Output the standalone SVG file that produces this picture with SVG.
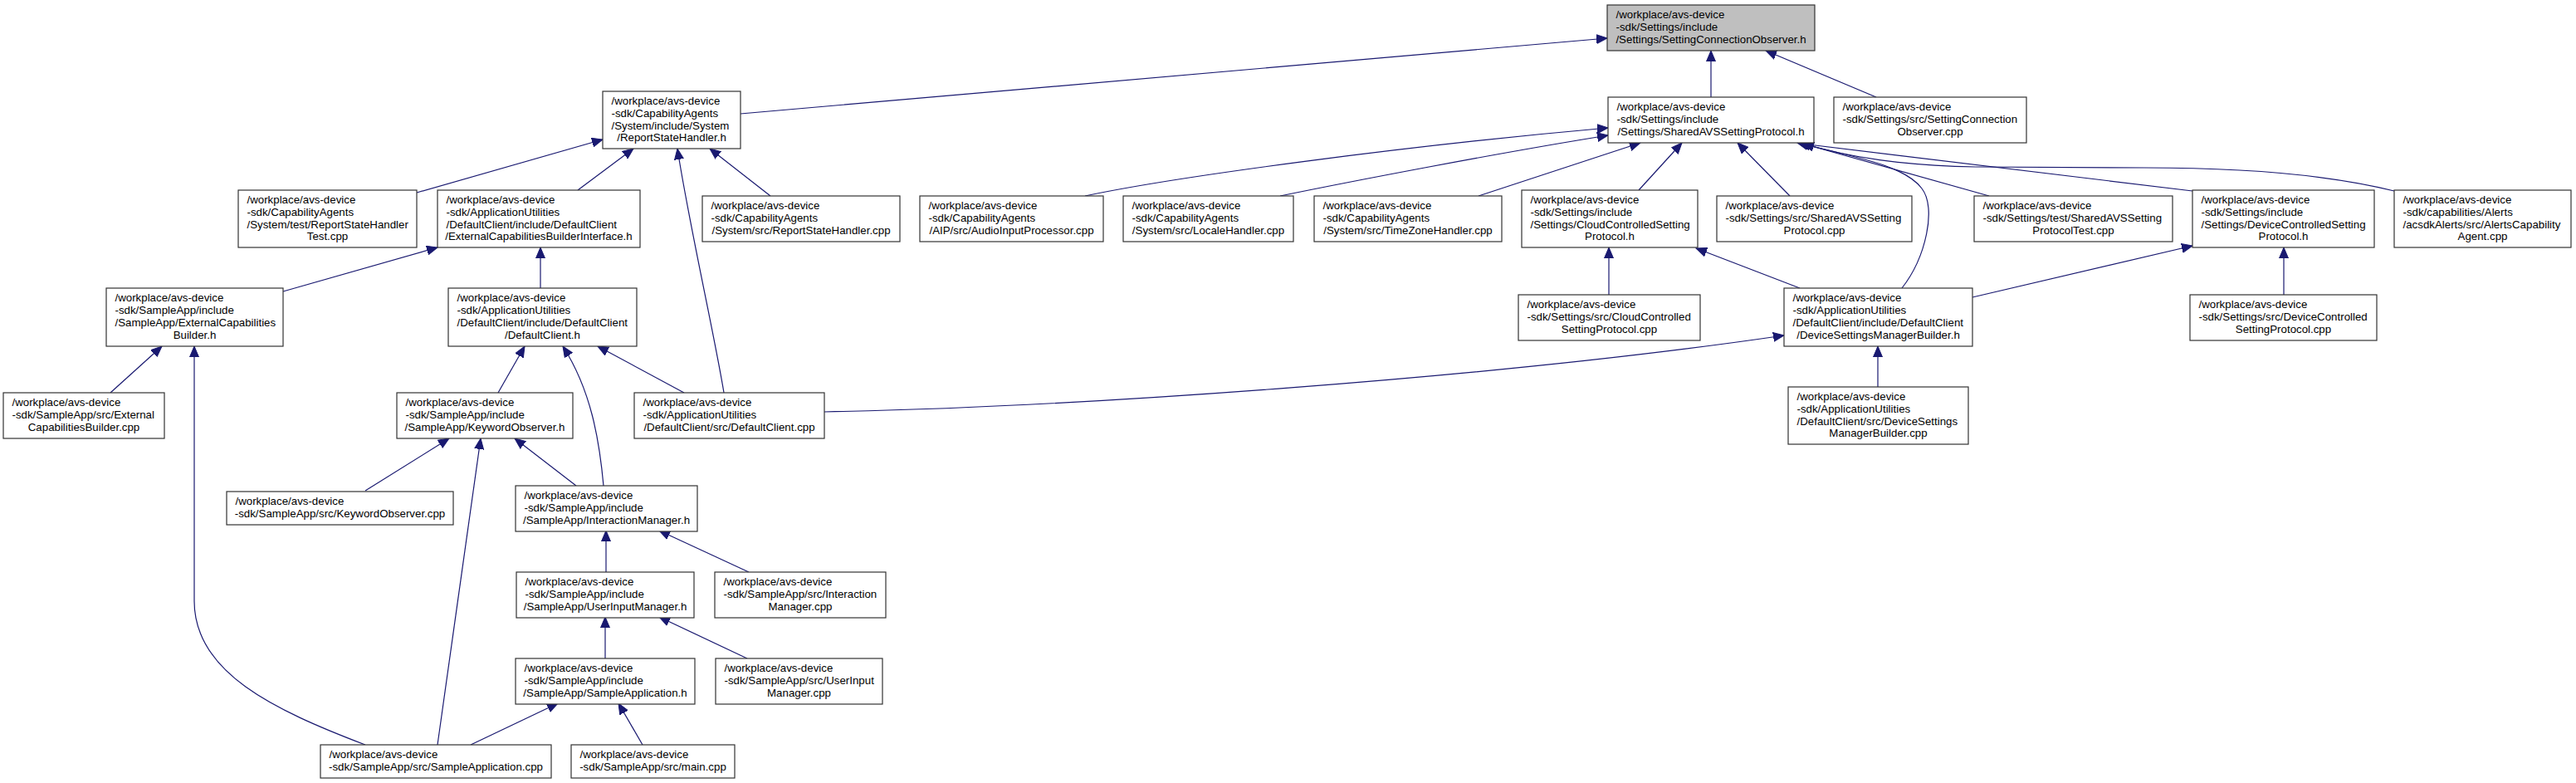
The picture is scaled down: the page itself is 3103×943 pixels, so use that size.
<svg xmlns="http://www.w3.org/2000/svg" width="3103" height="943" viewBox="0 0 3103 943">
<style>
.n rect{fill:#ffffff;stroke:#333333;stroke-width:1.2}
.n.g rect{fill:#bfbfbf}
.n text{font-family:"Liberation Sans",Arial,Helvetica,sans-serif;font-size:13.3px;fill:#000000}
.n text.c{text-anchor:middle}
.e path{fill:none;stroke:#191970;stroke-width:1.2;marker-end:url(#ah)}
</style>
<defs>
<marker id="ah" markerUnits="userSpaceOnUse" markerWidth="14" markerHeight="12" refX="13" refY="6" orient="auto" viewBox="0 0 14 12"><path d="M0,0.5 L13,6 L0,11.5 z" fill="#191970" stroke="#191970" stroke-width="1"/></marker>
</defs>
<rect x="0" y="0" width="3103" height="943" fill="#ffffff"/>
<g id="edges" class="e">
<path d="M892,137 L1936,46"/>
<path d="M2061,117 L2061,61"/>
<path d="M2260,117 L2127,61"/>
<path d="M502,232 L726,168"/>
<path d="M696,229 L763,179"/>
<path d="M928,236 L855,179"/>
<path d="M872,473 C860,400 830,270 816,179"/>
<path d="M1307,236 C1420,212 1700,175 1937,154"/>
<path d="M1542,236 C1620,220 1800,185 1937,163"/>
<path d="M1781,236 L1976,172"/>
<path d="M1974,229 L2026,172"/>
<path d="M2156,236 L2093,172"/>
<path d="M2396,236 L2168,172"/>
<path d="M2641,230 L2170,173"/>
<path d="M2884,230 C2820,214 2720,202 2583,202 L2380,201 C2290,199 2230,190 2172,173"/>
<path d="M2291,347 C2320,310 2333,250 2315,227 C2295,200 2240,190 2165,172"/>
<path d="M1938,355 L1938,298"/>
<path d="M2168,347 L2043,299"/>
<path d="M2751,355 L2751,298"/>
<path d="M2376,358 L2641,296"/>
<path d="M2262,466 L2262,417"/>
<path d="M993,496 C1300,490 1800,455 2149,404"/>
<path d="M341,351 L527,298"/>
<path d="M651,347 L651,298"/>
<path d="M133,473 L195,417"/>
<path d="M440,897 C330,855 234,810 234,724 L234,417"/>
<path d="M600,473 L632,417"/>
<path d="M727,585 C722,530 712,470 678,417"/>
<path d="M824,473 L720,417"/>
<path d="M440,591 L541,528"/>
<path d="M527,897 L579,528"/>
<path d="M694,585 L620,528"/>
<path d="M730,689 L730,639"/>
<path d="M902,689 L794,639"/>
<path d="M729,793 L729,743"/>
<path d="M900,793 L794,743"/>
<path d="M567,897 L672,847"/>
<path d="M774,897 L745,847"/>
</g>
<g id="n0" class="n g"><rect x="1936" y="6" width="250" height="55"/><text x="1946.5" y="22.3">/workplace/avs-device</text><text x="1946.5" y="37.1">-sdk/Settings/include</text><text class="c" x="2061" y="51.9">/Settings/SettingConnectionObserver.h</text></g>
<g id="n1" class="n"><rect x="726" y="110" width="166" height="69"/><text x="736.5" y="125.9">/workplace/avs-device</text><text x="736.5" y="140.7">-sdk/CapabilityAgents</text><text x="736.5" y="155.5">/System/include/System</text><text class="c" x="809" y="170.3">/ReportStateHandler.h</text></g>
<g id="n2" class="n"><rect x="1937" y="117" width="248" height="55"/><text x="1947.5" y="133.3">/workplace/avs-device</text><text x="1947.5" y="148.1">-sdk/Settings/include</text><text class="c" x="2061" y="162.9">/Settings/SharedAVSSettingProtocol.h</text></g>
<g id="n3" class="n"><rect x="2209" y="117" width="232" height="55"/><text x="2219.5" y="133.3">/workplace/avs-device</text><text x="2219.5" y="148.1">-sdk/Settings/src/SettingConnection</text><text class="c" x="2325" y="162.9">Observer.cpp</text></g>
<g id="n4" class="n"><rect x="287" y="229" width="215" height="69"/><text x="297.5" y="244.9">/workplace/avs-device</text><text x="297.5" y="259.7">-sdk/CapabilityAgents</text><text x="297.5" y="274.5">/System/test/ReportStateHandler</text><text class="c" x="394.5" y="289.3">Test.cpp</text></g>
<g id="n5" class="n"><rect x="527" y="229" width="244" height="69"/><text x="537.5" y="244.9">/workplace/avs-device</text><text x="537.5" y="259.7">-sdk/ApplicationUtilities</text><text x="537.5" y="274.5">/DefaultClient/include/DefaultClient</text><text class="c" x="649" y="289.3">/ExternalCapabilitiesBuilderInterface.h</text></g>
<g id="n6" class="n"><rect x="846" y="236" width="238" height="55"/><text x="856.5" y="252.3">/workplace/avs-device</text><text x="856.5" y="267.1">-sdk/CapabilityAgents</text><text class="c" x="965" y="281.9">/System/src/ReportStateHandler.cpp</text></g>
<g id="n7" class="n"><rect x="1108" y="236" width="221" height="55"/><text x="1118.5" y="252.3">/workplace/avs-device</text><text x="1118.5" y="267.1">-sdk/CapabilityAgents</text><text class="c" x="1218.5" y="281.9">/AIP/src/AudioInputProcessor.cpp</text></g>
<g id="n8" class="n"><rect x="1353" y="236" width="205" height="55"/><text x="1363.5" y="252.3">/workplace/avs-device</text><text x="1363.5" y="267.1">-sdk/CapabilityAgents</text><text class="c" x="1455.5" y="281.9">/System/src/LocaleHandler.cpp</text></g>
<g id="n9" class="n"><rect x="1583" y="236" width="226" height="55"/><text x="1593.5" y="252.3">/workplace/avs-device</text><text x="1593.5" y="267.1">-sdk/CapabilityAgents</text><text class="c" x="1696" y="281.9">/System/src/TimeZoneHandler.cpp</text></g>
<g id="n10" class="n"><rect x="1833" y="229" width="212" height="69"/><text x="1843.5" y="244.9">/workplace/avs-device</text><text x="1843.5" y="259.7">-sdk/Settings/include</text><text x="1843.5" y="274.5">/Settings/CloudControlledSetting</text><text class="c" x="1939" y="289.3">Protocol.h</text></g>
<g id="n11" class="n"><rect x="2068" y="236" width="235" height="55"/><text x="2078.5" y="252.3">/workplace/avs-device</text><text x="2078.5" y="267.1">-sdk/Settings/src/SharedAVSSetting</text><text class="c" x="2185.5" y="281.9">Protocol.cpp</text></g>
<g id="n12" class="n"><rect x="2378" y="236" width="239" height="55"/><text x="2388.5" y="252.3">/workplace/avs-device</text><text x="2388.5" y="267.1">-sdk/Settings/test/SharedAVSSetting</text><text class="c" x="2497.5" y="281.9">ProtocolTest.cpp</text></g>
<g id="n13" class="n"><rect x="2641" y="229" width="219" height="69"/><text x="2651.5" y="244.9">/workplace/avs-device</text><text x="2651.5" y="259.7">-sdk/Settings/include</text><text x="2651.5" y="274.5">/Settings/DeviceControlledSetting</text><text class="c" x="2750.5" y="289.3">Protocol.h</text></g>
<g id="n14" class="n"><rect x="2884" y="229" width="213" height="69"/><text x="2894.5" y="244.9">/workplace/avs-device</text><text x="2894.5" y="259.7">-sdk/capabilities/Alerts</text><text x="2894.5" y="274.5">/acsdkAlerts/src/AlertsCapability</text><text class="c" x="2990.5" y="289.3">Agent.cpp</text></g>
<g id="n15" class="n"><rect x="128" y="347" width="213" height="70"/><text x="138.5" y="363.4">/workplace/avs-device</text><text x="138.5" y="378.2">-sdk/SampleApp/include</text><text x="138.5" y="393">/SampleApp/ExternalCapabilities</text><text class="c" x="234.5" y="407.8">Builder.h</text></g>
<g id="n16" class="n"><rect x="540" y="347" width="227" height="70"/><text x="550.5" y="363.4">/workplace/avs-device</text><text x="550.5" y="378.2">-sdk/ApplicationUtilities</text><text x="550.5" y="393">/DefaultClient/include/DefaultClient</text><text class="c" x="653.5" y="407.8">/DefaultClient.h</text></g>
<g id="n17" class="n"><rect x="1829" y="355" width="219" height="55"/><text x="1839.5" y="371.3">/workplace/avs-device</text><text x="1839.5" y="386.1">-sdk/Settings/src/CloudControlled</text><text class="c" x="1938.5" y="400.9">SettingProtocol.cpp</text></g>
<g id="n18" class="n"><rect x="2149" y="347" width="227" height="70"/><text x="2159.5" y="363.4">/workplace/avs-device</text><text x="2159.5" y="378.2">-sdk/ApplicationUtilities</text><text x="2159.5" y="393">/DefaultClient/include/DefaultClient</text><text class="c" x="2262.5" y="407.8">/DeviceSettingsManagerBuilder.h</text></g>
<g id="n19" class="n"><rect x="2638" y="355" width="225" height="55"/><text x="2648.5" y="371.3">/workplace/avs-device</text><text x="2648.5" y="386.1">-sdk/Settings/src/DeviceControlled</text><text class="c" x="2750.5" y="400.9">SettingProtocol.cpp</text></g>
<g id="n20" class="n"><rect x="4" y="473" width="194" height="55"/><text x="14.5" y="489.3">/workplace/avs-device</text><text x="14.5" y="504.1">-sdk/SampleApp/src/External</text><text class="c" x="101" y="518.9">CapabilitiesBuilder.cpp</text></g>
<g id="n21" class="n"><rect x="478" y="473" width="212" height="55"/><text x="488.5" y="489.3">/workplace/avs-device</text><text x="488.5" y="504.1">-sdk/SampleApp/include</text><text class="c" x="584" y="518.9">/SampleApp/KeywordObserver.h</text></g>
<g id="n22" class="n"><rect x="764" y="473" width="229" height="55"/><text x="774.5" y="489.3">/workplace/avs-device</text><text x="774.5" y="504.1">-sdk/ApplicationUtilities</text><text class="c" x="878.5" y="518.9">/DefaultClient/src/DefaultClient.cpp</text></g>
<g id="n23" class="n"><rect x="2154" y="466" width="217" height="69"/><text x="2164.5" y="481.9">/workplace/avs-device</text><text x="2164.5" y="496.7">-sdk/ApplicationUtilities</text><text x="2164.5" y="511.5">/DefaultClient/src/DeviceSettings</text><text class="c" x="2262.5" y="526.3">ManagerBuilder.cpp</text></g>
<g id="n24" class="n"><rect x="273" y="592" width="273" height="40"/><text x="283.5" y="608.2">/workplace/avs-device</text><text class="c" x="409.5" y="623">-sdk/SampleApp/src/KeywordObserver.cpp</text></g>
<g id="n25" class="n"><rect x="621" y="585" width="219" height="55"/><text x="631.5" y="601.3">/workplace/avs-device</text><text x="631.5" y="616.1">-sdk/SampleApp/include</text><text class="c" x="730.5" y="630.9">/SampleApp/InteractionManager.h</text></g>
<g id="n26" class="n"><rect x="622" y="689" width="214" height="55"/><text x="632.5" y="705.3">/workplace/avs-device</text><text x="632.5" y="720.1">-sdk/SampleApp/include</text><text class="c" x="729" y="734.9">/SampleApp/UserInputManager.h</text></g>
<g id="n27" class="n"><rect x="861" y="689" width="206" height="55"/><text x="871.5" y="705.3">/workplace/avs-device</text><text x="871.5" y="720.1">-sdk/SampleApp/src/Interaction</text><text class="c" x="964" y="734.9">Manager.cpp</text></g>
<g id="n28" class="n"><rect x="621" y="793" width="216" height="55"/><text x="631.5" y="809.3">/workplace/avs-device</text><text x="631.5" y="824.1">-sdk/SampleApp/include</text><text class="c" x="729" y="838.9">/SampleApp/SampleApplication.h</text></g>
<g id="n29" class="n"><rect x="862" y="793" width="201" height="55"/><text x="872.5" y="809.3">/workplace/avs-device</text><text x="872.5" y="824.1">-sdk/SampleApp/src/UserInput</text><text class="c" x="962.5" y="838.9">Manager.cpp</text></g>
<g id="n30" class="n"><rect x="386" y="897" width="278" height="40"/><text x="396.5" y="913.2">/workplace/avs-device</text><text class="c" x="525" y="928">-sdk/SampleApp/src/SampleApplication.cpp</text></g>
<g id="n31" class="n"><rect x="688" y="897" width="197" height="40"/><text x="698.5" y="913.2">/workplace/avs-device</text><text class="c" x="786.5" y="928">-sdk/SampleApp/src/main.cpp</text></g>
</svg>
